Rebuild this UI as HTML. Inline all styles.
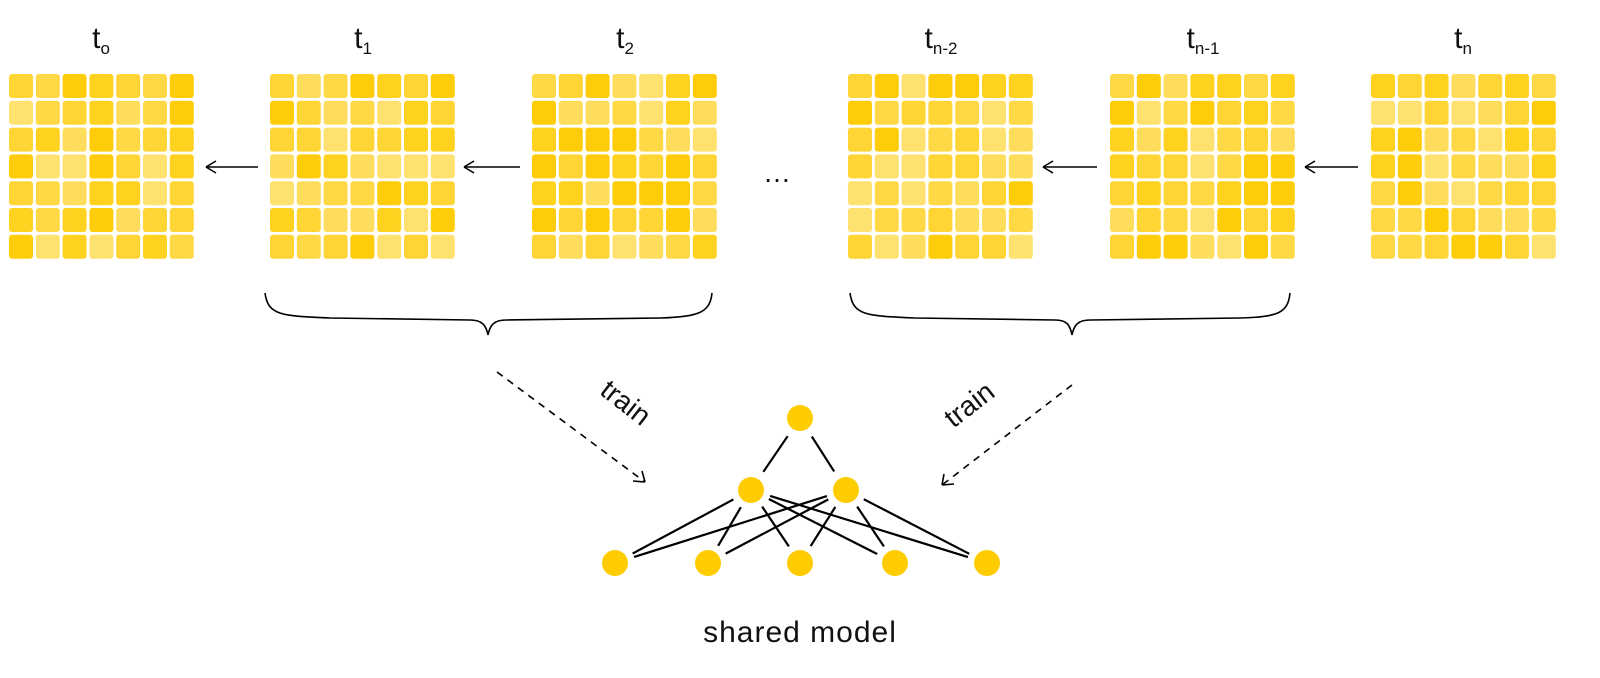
<!DOCTYPE html>
<html><head><meta charset="utf-8"><style>
body{margin:0;background:#fff;width:1600px;height:673px;overflow:hidden;font-family:"Liberation Sans",sans-serif}
</style></head><body>
<svg id="s" width="1600" height="673" xmlns="http://www.w3.org/2000/svg">
<g id="grids"></g>
<g font-size="30" fill="#111" text-anchor="middle">
<text x="101" y="48">t<tspan font-size="17" dy="6">o</tspan></text>
<text x="363" y="48">t<tspan font-size="17" dy="6">1</tspan></text>
<text x="625" y="48">t<tspan font-size="17" dy="6">2</tspan></text>
<text x="941" y="48">t<tspan font-size="17" dy="6">n-2</tspan></text>
<text x="1203" y="48">t<tspan font-size="17" dy="6">n-1</tspan></text>
<text x="1463" y="48">t<tspan font-size="17" dy="6">n</tspan></text>
<text x="777" y="182" font-size="28">…</text>
</g>
<g stroke="#000" stroke-width="1.6" fill="none">
<line x1="258" y1="167" x2="206" y2="167"/><path d="M206,167 l10,-6 M206,167 l10,6"/>
<line x1="520" y1="167" x2="464" y2="167"/><path d="M464,167 l10,-6 M464,167 l10,6"/>
<line x1="1097" y1="167" x2="1043" y2="167"/><path d="M1043,167 l10,-6 M1043,167 l10,6"/>
<line x1="1358" y1="167" x2="1305" y2="167"/><path d="M1305,167 l10,-6 M1305,167 l10,6"/>
<path d="M265,293 C268,315 280,316 330,318 L470,320 C482,320 486,325 488,335 C490,325 494,320 506,320 L660,318 C700,317 710,312 712,293"/>
<path d="M850,293 C853,315 865,316 915,318 L1055,320 C1067,320 1070,325 1072,335 C1074,325 1078,320 1090,320 L1240,318 C1280,317 1288,312 1290,293"/>
<line x1="497" y1="372" x2="645" y2="482" stroke-dasharray="7,6"/>
<path d="M645,482 l-12,-1 M645,482 l-3,-11"/>
<line x1="1072" y1="385" x2="942" y2="485" stroke-dasharray="7,6"/>
<path d="M942,485 l12,-1 M942,485 l2,-11"/>
</g>
<text x="620" y="410" font-size="28" fill="#111" text-anchor="middle" transform="rotate(38 620 410)">train</text>
<text x="975" y="412" font-size="28" fill="#111" text-anchor="middle" transform="rotate(-38 975 412)">train</text>
<g id="net" stroke="#000" stroke-width="2.2"></g>
<text x="800" y="642" font-size="30" fill="#111" text-anchor="middle" letter-spacing="1">shared model</text>
</svg>
<script>
(function(){
var g=document.getElementById('grids'),ns='http://www.w3.org/2000/svg';
var cols=['#ffcc0a','#ffd21f','#ffd535','#ffd845','#ffdd5c','#ffe170'];
var seed=7;function r(){seed=(seed*9301+49297)%233280;return seed/233280;}
[9,270,532,848,1110,1371].forEach(function(x0){for(var i=0;i<7;i++)for(var j=0;j<7;j++){var e=document.createElementNS(ns,'rect');e.setAttribute('x',x0+j*26.8);e.setAttribute('y',74+i*26.8);e.setAttribute('width',24);e.setAttribute('height',24);e.setAttribute('rx',3);e.setAttribute('fill',cols[Math.floor(r()*6)]);g.appendChild(e);}});
var n=document.getElementById('net');
var tp=[800,418],mid=[[751,490],[846,490]],bot=[[615,563],[708,563],[800,563],[895,563],[987,563]];
function ln(a,b,s){var dx=b[0]-a[0],dy=b[1]-a[1],L=Math.hypot(dx,dy),u=dx/L,v=dy/L;var e=document.createElementNS(ns,'line');e.setAttribute('x1',a[0]+u*s);e.setAttribute('y1',a[1]+v*s);e.setAttribute('x2',b[0]-u*s);e.setAttribute('y2',b[1]-v*s);n.appendChild(e);}
mid.forEach(function(m){ln(tp,m,22);bot.forEach(function(b){ln(m,b,20);});});
function c(p){var e=document.createElementNS(ns,'circle');e.setAttribute('cx',p[0]);e.setAttribute('cy',p[1]);e.setAttribute('r',13);e.setAttribute('fill','#ffcc00');e.setAttribute('stroke','none');n.appendChild(e);}
c(tp);mid.forEach(c);bot.forEach(c);
})();
</script>
</body></html>
